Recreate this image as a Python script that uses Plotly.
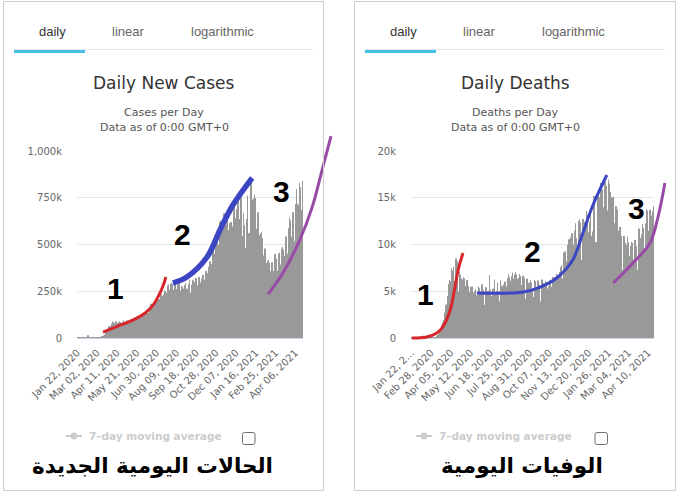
import plotly.graph_objects as go

W, H = 683, 496

# daily new cases in thousands, Jan 22 2020 -> Apr 21 2021 (one line per week)
cases_k = [
    0.6, 0.1, 0.3, 0.5, 0.7, 0.8, 1.4,
    1.7, 1.8, 2.1, 2.6, 2.8, 3.2, 3.9,
    3.7, 3.2, 3.4, 2.7, 3.0, 2.5, 2.0,
    2.1, 15.1, 6.4, 2.1, 2.6, 2.1, 1.9,
    0.5, 0.6, 1.0, 1.2, 0.6, 0.5, 0.9,
    0.9, 1.2, 1.5, 1.8, 1.8, 2.4, 2.5,
    2.4, 2.9, 3.9, 4.0, 3.9, 4.0, 4.7,
    7.3, 7.5, 10.6, 10.5, 11.2, 14.0, 14.3,
    17.3, 28.0, 31.6, 30.5, 34.0, 38.0, 41.5,
    48, 63, 63, 62, 58, 61, 75,
    78, 82, 87, 82, 70, 72, 78,
    82, 88, 88, 80, 73, 71, 76,
    84, 90, 84, 80, 72, 72, 74,
    80, 85, 95, 84, 72, 76, 75,
    80, 89, 93, 87, 77, 76, 84,
    95, 93, 96, 90, 78, 85, 88,
    93, 97, 99, 96, 84, 92, 95,
    106, 106, 109, 103, 96, 92, 104,
    107, 118, 124, 126, 107, 102, 117,
    123, 129, 132, 128, 108, 110, 127,
    134, 139, 141, 134, 127, 124, 141,
    145, 141, 183, 159, 137, 151, 167,
    172, 180, 191, 185, 163, 163, 180,
    208, 209, 207, 192, 177, 173, 208,
    216, 227, 234, 224, 191, 194, 222,
    234, 254, 252, 238, 212, 203, 240,
    281, 280, 287, 260, 229, 213, 256,
    291, 294, 288, 268, 224, 208, 258,
    278, 286, 290, 262, 232, 218, 265,
    285, 281, 296, 262, 218, 211, 254,
    276, 276, 272, 263, 225, 216, 253,
    284, 290, 296, 265, 230, 247, 263,
    279, 289, 312, 278, 241, 233, 256,
    285, 296, 312, 308, 269, 255, 289,
    298, 312, 321, 301, 248, 263, 282,
    290, 326, 325, 297, 247, 259, 298,
    317, 321, 337, 313, 264, 280, 312,
    345, 357, 359, 346, 294, 290, 332,
    380, 397, 411, 370, 313, 340, 395,
    440, 497, 484, 451, 390, 398, 479,
    516, 550, 562, 489, 418, 453, 497,
    596, 621, 629, 575, 491, 506, 554,
    630, 652, 667, 599, 515, 528, 604,
    630, 653, 664, 576, 487, 532, 575,
    614, 563, 620, 548, 461, 521, 596,
    654, 688, 700, 641, 529, 502, 608,
    688, 698, 730, 652, 540, 544, 636,
    729, 751, 741, 614, 544, 532, 632,
    666, 603, 436, 480, 446, 544, 636,
    761, 727, 476, 560, 523, 563, 757,
    825, 846, 858, 740, 612, 585, 705,
    744, 768, 748, 648, 554, 514, 584,
    660, 673, 628, 549, 460, 456, 516,
    560, 567, 534, 477, 400, 391, 441,
    480, 476, 445, 401, 334, 324, 378,
    411, 419, 402, 357, 297, 298, 357,
    393, 405, 387, 358, 302, 305, 374,
    447, 451, 424, 395, 304, 298, 358,
    452, 451, 456, 393, 345, 316, 426,
    478, 486, 472, 435, 371, 354, 438,
    518, 543, 528, 452, 387, 378, 496,
    587, 645, 630, 543, 440, 449, 541,
    640, 672, 595, 497, 424, 518, 604,
    716, 795, 718, 654, 558, 522, 713,
    793, 830, 806, 760, 685, 612, 790,
    840,
]

# daily deaths, same days
deaths = [
    17, 1, 8, 16, 14, 26, 49,
    2, 38, 42, 46, 45, 57, 64,
    66, 73, 73, 86, 89, 97, 108,
    97, 254, 121, 143, 142, 106, 98,
    139, 115, 118, 109, 97, 150, 71,
    64, 37, 58, 67, 72, 70, 84,
    83, 99, 102, 106, 103, 235, 202,
    272, 327, 354, 436, 419, 747, 885,
    1105, 1333, 1394, 1692, 1737, 1900, 2420,
    2700, 2860, 3510, 3600, 3330, 3450, 4480,
    4960, 5800, 6200, 6080, 4920, 4700, 7420,
    6960, 7200, 7630, 6100, 5630, 5330, 7370,
    8500, 7200, 8200, 6320, 4980, 4870, 7100,
    7000, 6760, 6370, 5620, 4020, 3810, 6250,
    6500, 6380, 5620, 5560, 3580, 3600, 6120,
    6200, 5710, 5570, 4940, 3530, 3740, 5460,
    5370, 5210, 5510, 4800, 3600, 3610, 4830,
    5000, 4880, 5240, 4560, 3200, 3250, 4600,
    5510, 4840, 5320, 4800, 3370, 3370, 4770,
    5740, 5140, 5110, 4500, 3390, 3520, 4800,
    5420, 5150, 5010, 4470, 3400, 3420, 5050,
    6750, 5170, 5010, 4460, 3630, 3440, 5280,
    5230, 5150, 6240, 4770, 3120, 3550, 4990,
    5030, 5940, 4790, 4990, 3940, 3800, 6150,
    5620, 5350, 5530, 5210, 4110, 4030, 5710,
    6030, 5930, 6020, 5500, 4120, 3990, 6400,
    6850, 6380, 6500, 6120, 4210, 4350, 6520,
    6620, 7010, 6350, 5700, 4340, 4300, 6760,
    7050, 6830, 6320, 6130, 4320, 4520, 6440,
    6840, 6500, 6630, 5680, 4300, 4180, 6390,
    6650, 6450, 6390, 5430, 4200, 4090, 5890,
    6330, 6200, 5880, 5360, 4100, 3990, 5950,
    6200, 5900, 5780, 5130, 3750, 3620, 4380,
    6230, 6030, 6100, 5200, 3900, 3840, 5730,
    6140, 5860, 5700, 5250, 3700, 3900, 5520,
    6260, 5920, 5870, 5400, 3800, 3860, 5540,
    6080, 5990, 5640, 5300, 3960, 4040, 5530,
    6150, 6130, 6200, 5470, 3970, 4030, 5500,
    6530, 6410, 6460, 5570, 3960, 4500, 6220,
    6880, 6770, 6400, 5810, 4220, 4950, 7080,
    7460, 7600, 7820, 6370, 5010, 5600, 8080,
    9150, 9220, 9270, 8180, 6330, 6750, 9380,
    9960, 10400, 10570, 9470, 7330, 7800, 10770,
    11210, 10990, 11210, 9970, 7830, 8120, 11480,
    12260, 10700, 10450, 9090, 7480, 8880, 12530,
    12520, 12650, 12330, 10920, 8090, 8330, 12100,
    12720, 12130, 12400, 11230, 7910, 8440, 12470,
    13600, 13190, 12770, 11300, 8600, 9050, 12450,
    13500, 10900, 8110, 7690, 7700, 11400, 14400,
    15200, 12800, 8980, 10280, 7460, 10260, 14790,
    15500, 15500, 15050, 13300, 9030, 10900, 16580,
    16000, 15920, 15050, 13990, 9380, 10200, 17080,
    16600, 16700, 16240, 13630, 9240, 10060, 16950,
    16490, 16020, 15640, 13680, 9280, 10000, 15030,
    14860, 15100, 14030, 12270, 8080, 8880, 14090,
    13720, 13730, 12440, 11460, 7390, 7140, 11410,
    11880, 11370, 10940, 9500, 6760, 7280, 10400,
    10900, 10720, 10200, 9340, 6310, 6950, 9950,
    10830, 10240, 9770, 8790, 5910, 6870, 9830,
    10280, 10180, 9540, 8430, 6150, 7160, 9790,
    10490, 10230, 9830, 8210, 6550, 7290, 10310,
    11700, 11200, 10700, 9270, 7000, 7620, 11080,
    12200, 11800, 10890, 9270, 7510, 8420, 12240,
    13800, 13600, 12200, 11480, 8220, 8840, 13200,
    13690, 13740, 13100, 12120, 8570, 9500, 13560,
    14100,
]

cases_ticks = ["Jan 22, 2020", "Mar 02, 2020", "Apr 11, 2020", "May 21, 2020",
               "Jun 30, 2020", "Aug 09, 2020", "Sep 18, 2020", "Oct 28, 2020",
               "Dec 07, 2020", "Jan 16, 2021", "Feb 25, 2021", "Apr 06, 2021"]
deaths_ticks = ["Jan 22, 2…", "Feb 28, 2020", "Apr 05, 2020", "May 12, 2020",
                "Jun 18, 2020", "Jul 25, 2020", "Aug 31, 2020", "Oct 07, 2020",
                "Nov 13, 2020", "Dec 20, 2020", "Jan 26, 2021", "Mar 04, 2021",
                "Apr 10, 2021"]

# hand drawn trend strokes (day index, value)
c_red_day = [52, 82, 112, 137, 153, 165, 173, 179]
c_red_val = [32, 64, 96, 134, 176, 230, 278, 326]
c_blue_day = [193, 221, 262, 288, 314, 342, 353]
c_blue_val = [294, 326, 433, 578, 711, 818, 856]
c_purple_day = [385, 415, 449, 474, 494, 512]
c_purple_val = [235, 348, 524, 700, 898, 1080]
c_num_day = [78, 213, 413]
c_num_val = [267, 551, 781]

d_red_day = [1, 29, 48, 59, 73, 82, 88, 97]
d_red_val = [0, 110, 540, 1180, 3000, 5450, 7270, 9090]
d_blue_day = [123, 210, 242, 273, 303, 322, 341, 367]
d_blue_val = [4810, 4920, 5450, 6420, 8340, 11230, 14220, 17430]
d_purple_day = [379, 416, 448, 463, 476]
d_purple_val = [5880, 8020, 10160, 12940, 16580]
d_num_day = [26, 228, 422]
d_num_val = [4600, 9200, 13800]


def fx(p):
    return p / W


def fy(p):
    return 1 - p / H


n = len(cases_k)
days = list(range(n))
PLOT_TOP, PLOT_BOT = 151, 338

fig = go.Figure()

panels = [
    dict(vals=cases_k, ticks=cases_ticks, step=40, left=77, right=303, ymax=1000,
         ytv=[0, 250, 500, 750, 1000], ytt=["0", "250k", "500k", "750k", "1,000k"],
         curves=[(c_red_day, c_red_val, "#d7262b", 3),
                 (c_blue_day, c_blue_val, "#3c46c3", 5.5),
                 (c_purple_day, c_purple_val, "#984ba6", 3)],
         nums=(c_num_day, c_num_val)),
    dict(vals=deaths, ticks=deaths_ticks, step=37, left=411, right=654, ymax=20000,
         ytv=[0, 5000, 10000, 15000, 20000], ytt=["0", "5k", "10k", "15k", "20k"],
         curves=[(d_red_day, d_red_val, "#d7262b", 3),
                 (d_blue_day, d_blue_val, "#3c46c3", 3),
                 (d_purple_day, d_purple_val, "#984ba6", 3)],
         nums=(d_num_day, d_num_val)),
]

layout = {}
annotations = []
for i, p in enumerate(panels):
    ax = "" if i == 0 else "2"
    ov = str(3 + i)
    fig.add_trace(go.Bar(x=days, y=p["vals"], marker_color="#999999",
                         marker_line_width=0, xaxis="x" + ax, yaxis="y" + ax,
                         hoverinfo="skip"))
    layout["xaxis" + ax] = dict(
        domain=[fx(p["left"]), fx(p["right"])], range=[-0.5, n - 0.5],
        anchor="y" + ax, tickvals=list(range(0, p["step"] * len(p["ticks"]), p["step"])),
        ticktext=p["ticks"], tickangle=-45, showgrid=False, showline=True,
        linecolor="#ccd6eb", linewidth=1, ticks="", ticklabelstandoff=4,
        automargin=False,
        tickfont=dict(family="DejaVu Sans", size=10, color="#666"), fixedrange=True)
    layout["yaxis" + ax] = dict(
        domain=[fy(PLOT_BOT), fy(PLOT_TOP)], range=[0, p["ymax"]], anchor="x" + ax,
        tickvals=p["ytv"], ticktext=p["ytt"], gridcolor="#e6e6e6", zeroline=False,
        ticks="", ticklabelstandoff=14, automargin=False,
        tickfont=dict(family="DejaVu Sans", size=10, color="#666"), fixedrange=True)

    # overlay axes spanning the whole figure, same scale as the chart
    sx = (p["right"] - p["left"]) / n
    sy = (PLOT_BOT - PLOT_TOP) / p["ymax"]
    layout["xaxis" + ov] = dict(
        domain=[0, 1], anchor="y" + ov, visible=False, fixedrange=True,
        automargin=False,
        range=[-0.5 - p["left"] / sx, n - 0.5 + (W - p["right"]) / sx])
    layout["yaxis" + ov] = dict(
        domain=[0, 1], anchor="x" + ov, visible=False, fixedrange=True,
        automargin=False,
        range=[-(H - PLOT_BOT) / sy, p["ymax"] + PLOT_TOP / sy])
    for cx, cy, col, lw in p["curves"]:
        fig.add_trace(go.Scatter(x=cx, y=cy, mode="lines", xaxis="x" + ov,
                                 yaxis="y" + ov, line=dict(color=col, width=lw,
                                                           shape="spline"),
                                 hoverinfo="skip"))
    for k, (nx, ny) in enumerate(zip(*p["nums"])):
        annotations.append(dict(x=nx, y=ny, xref="x" + ov, yref="y" + ov,
                                text="<b>%d</b>" % (k + 1), showarrow=False,
                                font=dict(family="Liberation Sans", size=30,
                                          color="black")))


def label(text, x, y, size, color, family="DejaVu Sans", anchor="center"):
    annotations.append(dict(x=fx(x), y=fy(y), xref="paper", yref="paper",
                            text=text, showarrow=False, xanchor=anchor,
                            yanchor="middle",
                            font=dict(family=family, size=size, color=color)))


shapes = []
for (x0, x1, cx, title, sub, legx, boxx, cap, capx, capsize) in [
        (3.5, 323.5, 164, "Daily New Cases", "Cases per Day", 66, 242.5,
         "الحالات اليومية الجديدة", 152, 21.5),
        (354.5, 675.5, 515, "Daily Deaths", "Deaths per Day", 416, 595,
         "الوفيات اليومية", 522, 21.5)]:
    shapes.append(dict(type="rect", xref="paper", yref="paper", x0=fx(x0), x1=fx(x1),
                       y0=fy(1.5), y1=fy(490.5), line=dict(color="#cccccc", width=1)))
    tab0 = x0 + 10.5
    shapes.append(dict(type="line", xref="paper", yref="paper", x0=fx(tab0),
                       x1=fx(x1 - 10.5), y0=fy(49.5), y1=fy(49.5),
                       line=dict(color="#e6e6e6", width=1)))
    shapes.append(dict(type="rect", xref="paper", yref="paper", x0=fx(tab0),
                       x1=fx(tab0 + 71), y0=fy(50), y1=fy(53),
                       fillcolor="#46c0e6", line_width=0))
    label("daily", tab0 + 38, 31, 13, "#333", "Liberation Sans")
    label("linear", tab0 + 114, 31, 13, "#666", "Liberation Sans")
    label("logarithmic", tab0 + 208, 31, 13, "#666", "Liberation Sans")
    label(title, cx, 83, 17, "#333")
    label(sub, cx, 113, 11, "#555")
    label("Data as of 0:00 GMT+0", cx, 127, 11, "#555")
    # legend item (hidden series)
    shapes.append(dict(type="line", xref="paper", yref="paper", x0=fx(legx),
                       x1=fx(legx + 16), y0=fy(436), y1=fy(436),
                       line=dict(color="#cccccc", width=2)))
    shapes.append(dict(type="circle", xref="paper", yref="paper", x0=fx(legx + 4.5),
                       x1=fx(legx + 11.5), y0=fy(439.5), y1=fy(432.5),
                       fillcolor="#cccccc", line_width=0))
    label("<b>7–day moving average</b>", legx + 21, 436, 10.5, "#cccccc", anchor="left")
    b0, b1, t, bt, r = boxx, boxx + 12.5, 432.5, 444.5, 2
    path = ("M %f,%f L %f,%f Q %f,%f %f,%f L %f,%f Q %f,%f %f,%f L %f,%f Q %f,%f %f,%f "
            "L %f,%f Q %f,%f %f,%f Z") % (
        fx(b0 + r), fy(t), fx(b1 - r), fy(t), fx(b1), fy(t), fx(b1), fy(t + r),
        fx(b1), fy(bt - r), fx(b1), fy(bt), fx(b1 - r), fy(bt),
        fx(b0 + r), fy(bt), fx(b0), fy(bt), fx(b0), fy(bt - r),
        fx(b0), fy(t + r), fx(b0), fy(t), fx(b0 + r), fy(t))
    shapes.append(dict(type="path", xref="paper", yref="paper", path=path,
                       line=dict(color="#6f6f6f", width=1)))
    label("<b>" + cap + "</b>", capx, 465, capsize, "black")

fig.update_layout(
    width=W, height=H, margin=dict(l=0, r=0, t=0, b=0, pad=0, autoexpand=False),
    paper_bgcolor="white", plot_bgcolor="rgba(0,0,0,0)",
    showlegend=False, bargap=0.15, annotations=annotations, shapes=shapes,
    **layout)

# the page body has a default 8px margin; drop it so the figure sits at 0,0
fig.write_html("out.html", config={"displayModeBar": False},
               post_script="document.body.style.margin = '0';")
